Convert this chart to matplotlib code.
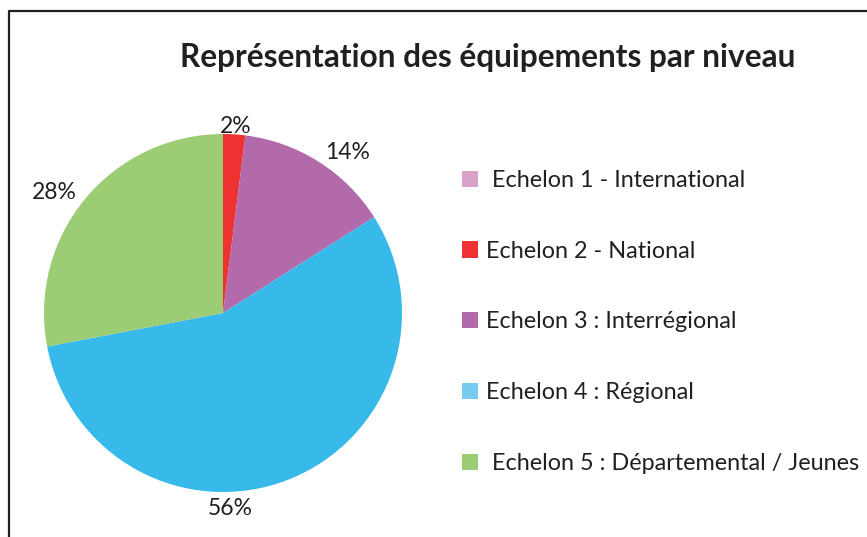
import matplotlib
matplotlib.use("Agg")
import matplotlib.pyplot as plt
from matplotlib.patches import Patch
from matplotlib.lines import Line2D

categories = ["Echelon 1 - International", "Echelon 2 - National",
              "Echelon 3 : Interrégional", "Echelon 4 : Régional",
              "Echelon 5 : Départemental / Jeunes"]
legend_labels = [" Echelon 1 - International", "Echelon 2 - National",
                 "Echelon 3 : Interrégional", "Echelon 4 : Régional",
                 " Echelon 5 : Départemental / Jeunes"]
values = [0, 2, 14, 56, 28]
pct_labels = ["", "2%", "14%", "56%", "28%"]
pie_colors = ["#d8a2c9", "#ee3232", "#b36aaa", "#37b9ea", "#9ccd74"]
legend_colors = ["#d8a2c9", "#ee3232", "#b36aaa", "#76cbef", "#9ccd74"]
title = "Représentation des équipements par niveau"

TXT = "#231f20"
plt.rcParams['font.family'] = ['Lato', 'DejaVu Sans']

W, H = 867, 537
fig = plt.figure(figsize=(W / 100, H / 100), dpi=100)

cx, cy, R = 223, 313, 179
half = 200
ax = fig.add_axes([(cx - half) / W, 1 - (cy + half) / H, 2 * half / W, 2 * half / H])
wedges, texts = ax.pie(values, labels=pct_labels, colors=pie_colors, startangle=90,
                       counterclock=False, labeldistance=1.06,
                       textprops=dict(fontsize=16.5, color=TXT),
                       wedgeprops=dict(linewidth=0))
ax.set_xlim(-half / R, half / R)
ax.set_ylim(-half / R, half / R)
ax.set_aspect('equal')
ax.axis('off')
texts[1].set_horizontalalignment('center')
texts[1].set_position((0.07, 1.04))
texts[3].set_horizontalalignment('center')
texts[3].set_position((0.04, -1.09))
texts[3].set_verticalalignment('center')

fig.text(488 / W, 1 - 58 / H, title, ha='center', va='center',
         fontsize=22.8, fontweight='bold', color=TXT)

handles = [Patch(facecolor=c, edgecolor='none') for c in legend_colors]
fig.legend(handles, legend_labels, loc='upper left',
           bbox_to_anchor=(462 / W, 1 - 170 / H), frameon=False,
           fontsize=16.8, labelcolor=TXT, handlelength=0.69, handleheight=0.69,
           handletextpad=0.35, labelspacing=2.13, borderaxespad=0, borderpad=0)

fig.add_artist(Line2D([9 / W, 9 / W, 1], [0, 1 - 11 / H, 1 - 11 / H],
                      transform=fig.transFigure, color=TXT, linewidth=1.6))

fig.savefig("out.png", dpi=100)
